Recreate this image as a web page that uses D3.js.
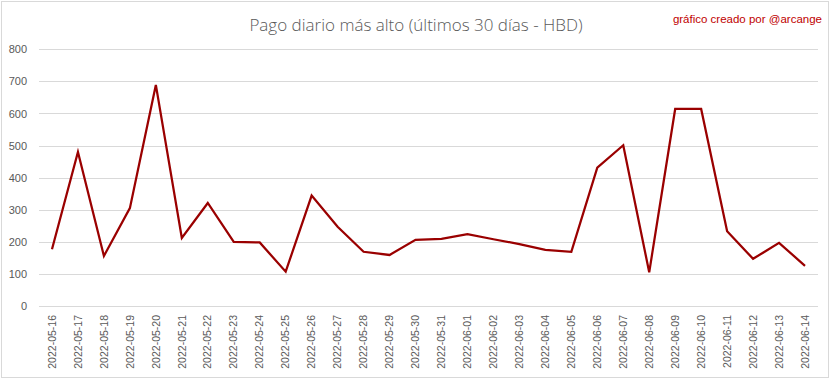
<!DOCTYPE html>
<html><head><meta charset="utf-8">
<script src="https://cdn.jsdelivr.net/npm/d3@7"></script>
<style>body{margin:0;background:#fff}svg{display:block}</style>
</head><body>
<div id="chart"></div>
<script>
const dates = ["2022-05-16","2022-05-17","2022-05-18","2022-05-19","2022-05-20","2022-05-21","2022-05-22","2022-05-23","2022-05-24","2022-05-25","2022-05-26","2022-05-27","2022-05-28","2022-05-29","2022-05-30","2022-05-31","2022-06-01","2022-06-02","2022-06-03","2022-06-04","2022-06-05","2022-06-06","2022-06-07","2022-06-08","2022-06-09","2022-06-10","2022-06-11","2022-06-12","2022-06-13","2022-06-14"];
const values = [177,480,156,305,689,212,321,200,198,107,344,247,169,159,206,209,224,208,193,175,169,431,501,105,614,614,233,147,197,125];
const yTicks = [0,100,200,300,400,500,600,700,800];
const title = "Pago diario más alto (últimos 30 días - HBD)";
const credit = "gráfico creado por @arcange";

const W = 833, H = 379;
const svg = d3.select("#chart").append("svg").attr("width", W).attr("height", H);
svg.append("rect").attr("x",1.5).attr("y",1.5).attr("width",827).attr("height",376)
  .attr("fill","#fff").attr("stroke","#d9d9d9").attr("stroke-width",1);

const x = d3.scaleBand().domain(dates).range([39, 818]);
const y = d3.scaleLinear().domain([0, 800]).range([306, 49.3]);

const grid = svg.append("g");
grid.selectAll("line").data(yTicks).join("line")
  .attr("x1", 39).attr("x2", 818)
  .attr("y1", d => Math.round(y(d)) + 0.5).attr("y2", d => Math.round(y(d)) + 0.5)
  .attr("stroke", "#d9d9d9").attr("stroke-width", 1);

const yAxis = d3.axisLeft(y).tickValues(yTicks).tickSize(0).tickPadding(0);
const ya = svg.append("g").attr("transform","translate(27,0)").call(yAxis);
ya.select(".domain").remove();
ya.selectAll("text").attr("fill","#595959").style("font-family","'Liberation Sans', Arial, sans-serif").style("font-size","11px");

const xAxis = d3.axisBottom(x).tickSize(0).tickPadding(0);
const xa = svg.append("g").attr("transform","translate(0,306)").call(xAxis);
xa.select(".domain").remove();
xa.selectAll("text")
  .attr("fill","#595959")
  .style("font-family","'Liberation Sans', Arial, sans-serif").style("font-size","10.5px")
  .attr("text-anchor","end").attr("dy","0.35em")
  .attr("transform","translate(0,9) rotate(-90)");

const line = d3.line().x((d,i) => x(dates[i]) + x.bandwidth()/2).y(d => y(d));
svg.append("path").datum(values).attr("d", line)
  .attr("fill","none").attr("stroke","#9a0000").attr("stroke-width",2.25)
  .attr("stroke-linejoin","miter");

svg.append("text").attr("x", 416).attr("y", 31).attr("text-anchor","middle")
  .attr("fill","#595959").style("font-family","'Open Sans', sans-serif").style("font-weight","300")
  .style("font-size","17px").text(title);

svg.append("text").attr("x", 822).attr("y", 23).attr("text-anchor","end")
  .attr("fill","#c00000").style("font-family","'Liberation Sans', Arial, sans-serif")
  .style("font-size","11.5px").text(credit);
</script>
</body></html>
